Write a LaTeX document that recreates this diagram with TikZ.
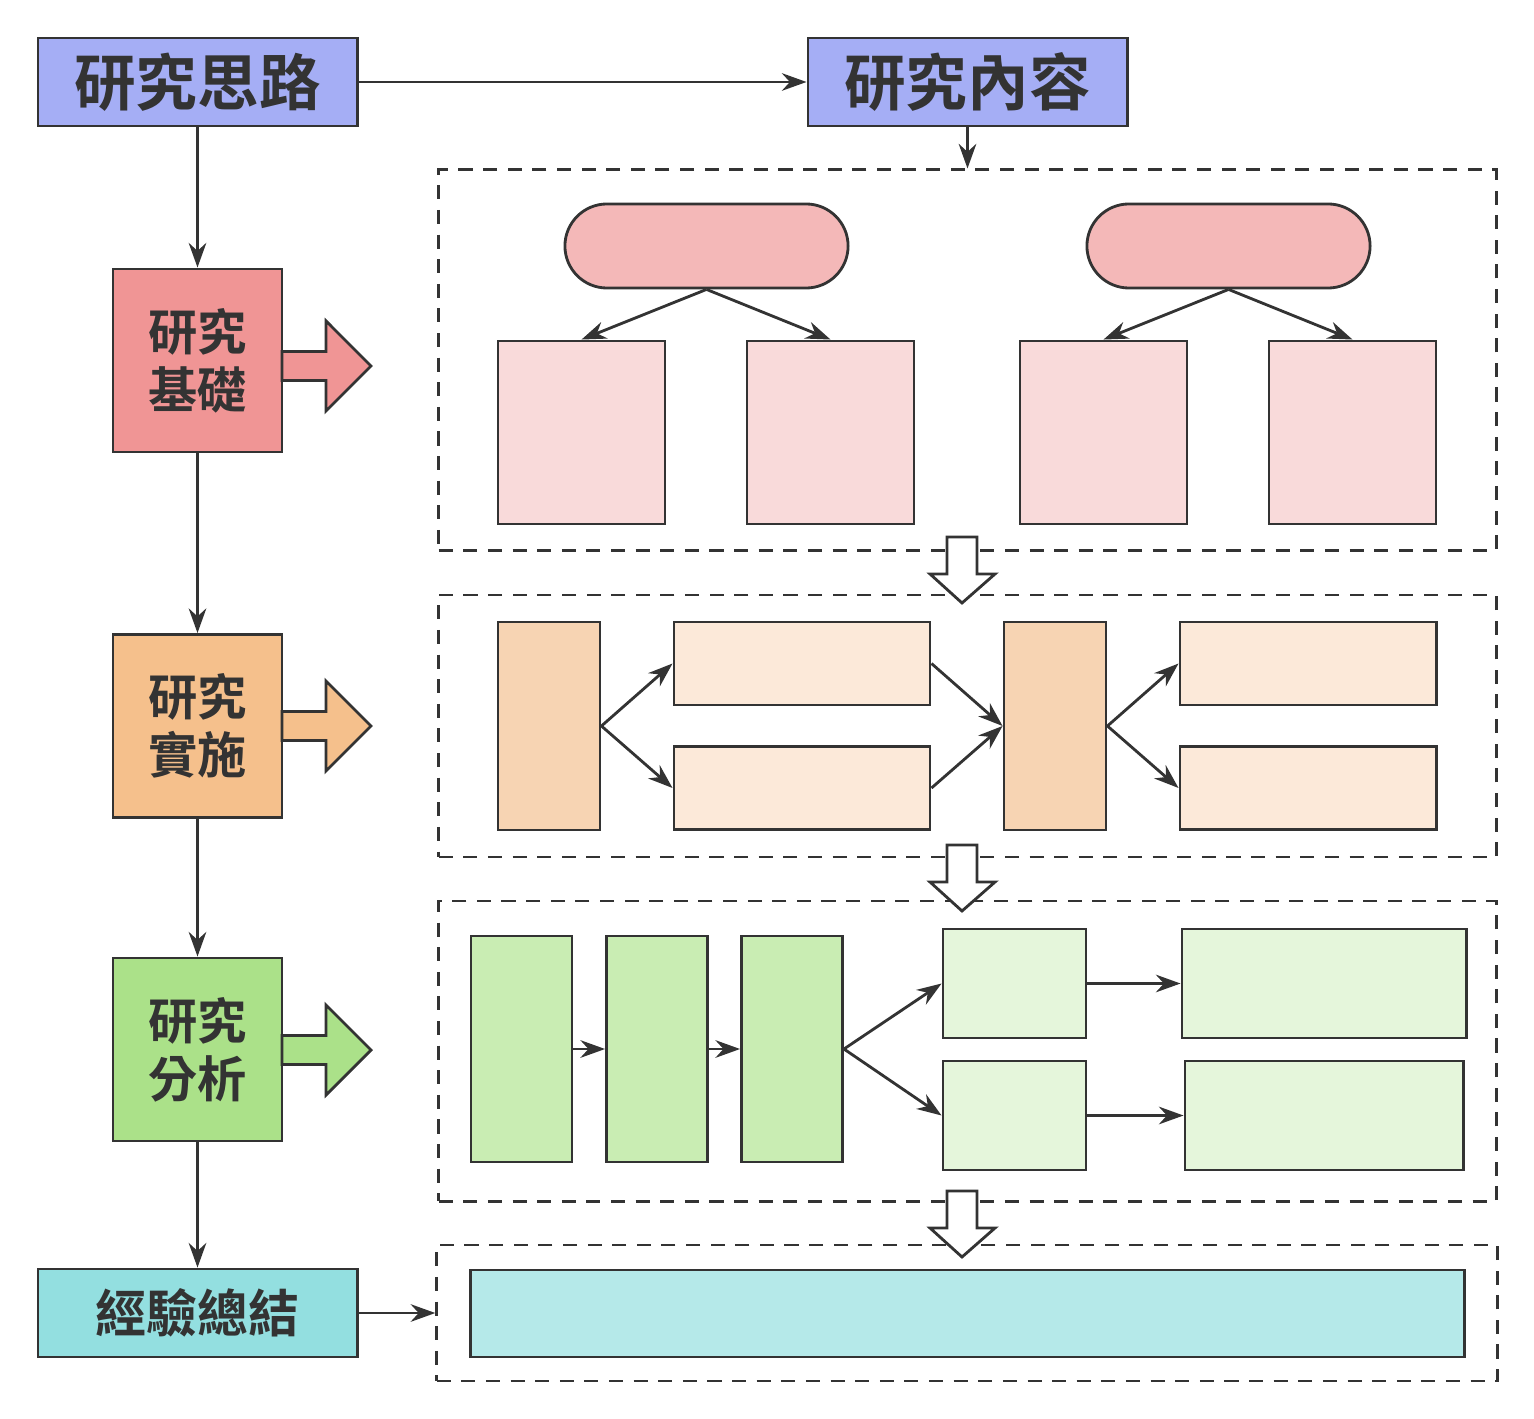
\documentclass[tikz,border=0pt]{standalone}
\usepackage{fontspec}
\newfontfamily\cjk{Noto Sans CJK TC}[BoldFont={Noto Sans CJK TC Bold}]
\usetikzlibrary{arrows.meta}
\definecolor{ink}{HTML}{333333}
\definecolor{blueF}{HTML}{A5AEF5}
\definecolor{redF}{HTML}{F09595}
\definecolor{orangeF}{HTML}{F5C08C}
\definecolor{greenF}{HTML}{ABE189}
\definecolor{cyanF}{HTML}{93DFE0}
\definecolor{pillF}{HTML}{F4B8B8}
\definecolor{pinkF}{HTML}{F9DADA}
\definecolor{orgF}{HTML}{F7D4B3}
\definecolor{lorgF}{HTML}{FCE9D9}
\definecolor{grnF}{HTML}{C9EDB3}
\definecolor{lgrnF}{HTML}{E5F6DB}
\definecolor{cyF}{HTML}{B5E9E9}
\tikzset{
  box/.style={draw=ink,line width=0.8pt,inner sep=0pt,font=\cjk\bfseries\color{ink}},
  head/.style={box,fill=blueF,minimum width=3.19cm,minimum height=0.88cm,font=\cjk\bfseries\fontsize{17.5}{20}\selectfont\color{ink}},
  stage/.style={box,minimum width=1.69cm,minimum height=1.83cm,align=center,font=\cjk\bfseries\fontsize{14}{16.5}\selectfont\color{ink}},
  frame/.style={draw=ink,line width=0.8pt,dashed,dash pattern=on 4pt off 3pt,minimum width=10.57cm},
  cell/.style={draw=ink,line width=0.8pt,inner sep=0pt},
  link/.style={draw=ink,line width=0.8pt,-{Stealth[length=7pt,width=5pt]}},
  fat/.style={draw=ink,line width=0.8pt},
}
\newcommand\sidearrow[2]{%
  \draw[fat,fill=#2] (282,#1-14.5) -- (326,#1-14.5) -- (326,#1-45) -- (371,#1)
    -- (326,#1+45) -- (326,#1+14.5) -- (282,#1+14.5) -- cycle;}
\newcommand\stagearrow[1]{%
  \draw[fat,fill=white] (947,#1) -- (977,#1) -- (977,#1+37) -- (995,#1+37)
    -- (962,#1+66) -- (930,#1+37) -- (947,#1+37) -- cycle;}
\begin{document}
\begin{tikzpicture}[x=0.01cm,y=-0.01cm]
\useasboundingbox (0,0) rectangle (1534,1419);
% left column
\node[head] (idea) at (197.5,82) {研究思路};
\node[head] (content) at (967.5,82) {研究內容};
\node[stage,fill=redF] (found) at (197.5,360.5) {研究\\基礎};
\node[stage,fill=orangeF] (impl) at (197.5,726) {研究\\實施};
\node[stage,fill=greenF] (anal) at (197.5,1049.5) {研究\\分析};
\node[head,fill=cyanF,font=\cjk\bfseries\fontsize{14.5}{17}\selectfont\color{ink}] (sum) at (197.5,1313) {經驗總結};
% dashed frames
\node[frame,minimum height=3.80cm] (fr1) at (967.5,360) {};
\node[frame,minimum height=2.62cm] (fr2) at (967.5,726) {};
\node[frame,minimum height=3.00cm] (fr3) at (967.5,1051) {};
\node[frame,minimum width=10.60cm,minimum height=1.36cm] (fr4) at (967,1313) {};
% frame 1
\node[cell,fill=pillF,minimum width=2.83cm,minimum height=0.84cm,rounded corners=0.42cm] (p1) at (706.5,246) {};
\node[cell,fill=pillF,minimum width=2.83cm,minimum height=0.84cm,rounded corners=0.42cm] (p2) at (1228.5,246) {};
\foreach \n/\x in {r1/581.5,r2/830.5,r3/1103.5,r4/1352.5}
  \node[cell,fill=pinkF,minimum width=1.67cm,minimum height=1.83cm] (\n) at (\x,432.5) {};
% frame 2
\node[cell,fill=orgF,minimum width=1.02cm,minimum height=2.08cm] (o1) at (549,726) {};
\node[cell,fill=orgF,minimum width=1.02cm,minimum height=2.08cm] (o2) at (1055,726) {};
\node[cell,fill=lorgF,minimum width=2.56cm,minimum height=0.83cm] (q1) at (802,663.5) {};
\node[cell,fill=lorgF,minimum width=2.56cm,minimum height=0.83cm] (q2) at (802,788) {};
\node[cell,fill=lorgF,minimum width=2.56cm,minimum height=0.83cm] (q3) at (1308,663.5) {};
\node[cell,fill=lorgF,minimum width=2.56cm,minimum height=0.83cm] (q4) at (1308,788) {};
% frame 3
\foreach \n/\x in {g1/521.5,g2/657,g3/792}
  \node[cell,fill=grnF,minimum width=1.01cm,minimum height=2.26cm] (\n) at (\x,1049) {};
\node[cell,fill=lgrnF,minimum width=1.43cm,minimum height=1.09cm] (h1) at (1014.5,983.5) {};
\node[cell,fill=lgrnF,minimum width=1.43cm,minimum height=1.09cm] (h2) at (1014.5,1115.5) {};
\node[cell,fill=lgrnF,minimum width=2.84cm,minimum height=1.09cm] (h3) at (1324,983.5) {};
\node[cell,fill=lgrnF,minimum width=2.78cm,minimum height=1.09cm] (h4) at (1324,1115.5) {};
% frame 4
\node[cell,fill=cyF,minimum width=9.93cm,minimum height=0.87cm] (c1) at (967.5,1313.5) {};
% connectors
\draw[link] (idea) -- (content);
\draw[link] (content) -- (fr1.north -| content);
\draw[link] (idea) -- (found);
\draw[link] (found) -- (impl);
\draw[link] (impl) -- (anal);
\draw[link] (anal) -- (sum);
\draw[link] (sum) -- (fr4.west |- sum);
\draw[link] (p1.south) -- (r1.north);
\draw[link] (p1.south) -- (r2.north);
\draw[link] (p2.south) -- (r3.north);
\draw[link] (p2.south) -- (r4.north);
\draw[link] (o1.east) -- (q1.west);
\draw[link] (o1.east) -- (q2.west);
\draw[link] (q1.east) -- (o2.west);
\draw[link] (q2.east) -- (o2.west);
\draw[link] (o2.east) -- (q3.west);
\draw[link] (o2.east) -- (q4.west);
\draw[link] (g1) -- (g2);
\draw[link] (g2) -- (g3);
\draw[link] (g3.east) -- (h1.west);
\draw[link] (g3.east) -- (h2.west);
\draw[link] (h1) -- (h3);
\draw[link] (h2) -- (h4);
% block arrows
\sidearrow{366}{redF}
\sidearrow{726}{orangeF}
\sidearrow{1050}{greenF}
\stagearrow{537}
\stagearrow{845}
\stagearrow{1191}
\end{tikzpicture}
\end{document}
